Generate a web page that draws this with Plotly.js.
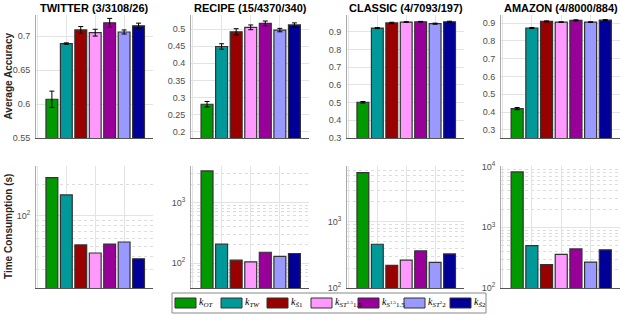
<!DOCTYPE html>
<html>
<head>
<meta charset="utf-8">
<script src="https://cdn.plot.ly/plotly-3.0.1.min.js"></script>
<style>html,body{margin:0;padding:0;background:#fff}#chart{width:623px;height:316px}</style>
</head>
<body>
<div id="chart"></div>
<script>
// ---- data ----
const datasets = ["TWITTER (3/3108/26)", "RECIPE (15/4370/340)", "CLASSIC (4/7093/197)", "AMAZON (4/8000/884)"];
const methods = ["<i>k</i><sub><i>OT</i></sub>", "<i>k</i><sub><i>TW</i></sub>", "<i>k</i><sub><i>S̃</i>1</sub>",
  "<i>k</i><sub><i>ST</i><sup>1.5</sup>1.5</sub>", "<i>k</i><sub><i>S</i><sup>1.5</sup>1.5</sub>",
  "<i>k</i><sub><i>ST</i><sup>2</sup>2</sub>", "<i>k</i><sub><i>S̃</i>2</sub>"];
const colors = ["#009900", "#009999", "#990000", "#ff99ff", "#990099", "#9999ff", "#000099"];
const xpos = [1, 2, 3, 4, 5, 6, 7];

const accTwitter = [0.607, 0.689, 0.709, 0.705, 0.7195, 0.706, 0.715];
const errTwitter = [0.012, 0.001, 0.005, 0.005, 0.0065, 0.003, 0.004];
const accRecipe = [0.2805, 0.449, 0.492, 0.505, 0.5165, 0.497, 0.512];
const errRecipe = [0.008, 0.008, 0.009, 0.007, 0.007, 0.005, 0.006];
const accClassic = [0.502, 0.921, 0.950, 0.955, 0.957, 0.946, 0.957];
const errClassic = [0.004, 0.003, 0.004, 0.002, 0.002, 0.003, 0.003];
const accAmazon = [0.420, 0.872, 0.909, 0.905, 0.915, 0.905, 0.916];
const errAmazon = [0.006, 0.003, 0.003, 0.002, 0.003, 0.002, 0.003];

const timeTwitter = [232, 158, 52, 43.5, 53, 55.5, 38.3];
const timeRecipe = [3300, 205, 112, 105, 151, 129, 144];
const timeClassic = [5500, 457, 219, 263, 363, 243, 327];
const timeAmazon = [8180, 500, 244, 357, 441, 267, 425];

const logTickVals = [10, 100, 1000, 10000];
const logTickText = ["10<sup>1</sup>", "10<sup>2</sup>", "10<sup>3</sup>", "10<sup>4</sup>"];

const accAll = [accTwitter, accRecipe, accClassic, accAmazon];
const errAll = [errTwitter, errRecipe, errClassic, errAmazon];
const timeAll = [timeTwitter, timeRecipe, timeClassic, timeAmazon];

// ---- layout helpers ----
const W = 623, H = 316;
const px = v => v / W, py = v => 1 - v / H;
const colPx = [[36, 153], [191, 309], [347, 464], [501, 620]];
const topRow = [15, 138], botRow = [166, 288];
const accRanges = [[0.55, 0.731], [0.182, 0.541], [0.3, 0.995], [0.255, 0.945]];
const accDtick = [0.05, 0.05, 0.1, 0.1];
const timeRanges = [[Math.log10(20), Math.log10(300)], [1.59, 3.6], [2, 3.84], [2, 4.01]];

// minor log grid positions (2..9 per decade)
const minorVals = [];
for (let e = 1; e <= 4; e++) for (let d = 2; d <= 9; d++) minorVals.push(d * Math.pow(10, e));

const traces = [];
const layout = {
  width: W, height: H, margin: {l: 0, r: 0, t: 0, b: 0},
  paper_bgcolor: "#fff", plot_bgcolor: "#fff",
  showlegend: false, barmode: "group",
  font: {family: "Liberation Sans, Arial, sans-serif", size: 9, color: "#4d4d4d"},
  annotations: [], shapes: []
};

const gridColor = "#e3e3e3";
for (let c = 0; c < 4; c++) {
  const dom = [px(colPx[c][0]), px(colPx[c][1])];
  const iT = c + 1, iB = c + 5;
  const xT = "x" + iT, yT = "y" + iT, xB = "x" + iB, yB = "y" + iB;
  const xaxisCommon = {domain: dom, range: [-0.1, 8.0], tickvals: [0, 2, 4, 6, 8], showticklabels: false,
    showgrid: true, gridcolor: gridColor, zeroline: false, showline: true, linecolor: "#555", linewidth: 1, ticks: ""};
  layout["xaxis" + iT] = Object.assign({}, xaxisCommon, {anchor: yT});
  layout["xaxis" + iB] = Object.assign({}, xaxisCommon, {anchor: yB});
  layout["yaxis" + iT] = {domain: [py(topRow[1]), py(topRow[0])], anchor: xT, range: accRanges[c], dtick: accDtick[c],
    showgrid: true, gridcolor: gridColor, zeroline: false, showline: true, linecolor: "#aaa", linewidth: 1, ticks: "",
    ticklabelstandoff: 3, tickfont: {size: 9, color: "#4d4d4d"}};
  layout["yaxis" + iB] = {domain: [py(botRow[1]), py(botRow[0])], anchor: xB, type: "log", range: timeRanges[c],
    tickmode: "array", tickvals: logTickVals, ticktext: logTickText,
    showgrid: true, gridcolor: gridColor, zeroline: false, showline: true, linecolor: "#aaa", linewidth: 1, ticks: "",
    ticklabelstandoff: 3, tickfont: {size: 9, color: "#4d4d4d"},
    minor: {tickmode: "array", tickvals: minorVals, showgrid: true, gridcolor: "#d4d4d4", griddash: "dot", gridwidth: 0.8, ticks: ""}};
  layout.annotations.push({text: "<b>" + datasets[c] + "</b>", xref: "paper", yref: "paper",
    x: (dom[0] + dom[1]) / 2, y: py(8), xanchor: "center", yanchor: "middle", showarrow: false,
    font: {size: 11, color: "#000", family: "Liberation Sans, Arial, sans-serif"}});

  for (let m = 0; m < 7; m++) {
    traces.push({type: "bar", x: [xpos[m]], y: [accAll[c][m]], width: 0.82, xaxis: xT, yaxis: yT,
      name: methods[m], marker: {color: colors[m], line: {color: "#333", width: 1.2}},
      error_y: {type: "data", array: [errAll[c][m]], visible: true, color: "#000", thickness: 1, width: 2.5},
      hoverinfo: "skip"});
    traces.push({type: "bar", x: [xpos[m]], y: [timeAll[c][m]], width: 0.82, xaxis: xB, yaxis: yB,
      name: methods[m], marker: {color: colors[m], line: {color: "#333", width: 1.2}}, hoverinfo: "skip"});
  }
}
layout.annotations.push({text: "<b>Average Accuracy</b>", xref: "paper", yref: "paper", x: px(8),
  y: py((topRow[0] + topRow[1]) / 2), textangle: -90, showarrow: false, xanchor: "center", yanchor: "middle",
  font: {size: 10, color: "#262626"}});
layout.annotations.push({text: "<b>Time Consumption (s)</b>", xref: "paper", yref: "paper", x: px(8),
  y: py((botRow[0] + botRow[1]) / 2), textangle: -90, showarrow: false, xanchor: "center", yanchor: "middle",
  font: {size: 10, color: "#262626"}});

// ---- custom legend (MATLAB style swatches) ----
const legBox = [172, 293, 486, 313];
layout.shapes.push({type: "rect", xref: "paper", yref: "paper", x0: px(legBox[0]), x1: px(legBox[2]),
  y0: py(legBox[3]), y1: py(legBox[1]), line: {color: "#888", width: 1}, fillcolor: "#fff", layer: "above"});
const swX = [175, 221, 267, 311, 358, 404, 450];
for (let m = 0; m < 7; m++) {
  layout.shapes.push({type: "rect", xref: "paper", yref: "paper", x0: px(swX[m]), x1: px(swX[m] + 21),
    y0: py(308), y1: py(298), line: {color: "#333", width: 1}, fillcolor: colors[m], layer: "above"});
  layout.annotations.push({text: methods[m], xref: "paper", yref: "paper", x: px(swX[m] + 22), y: py(302),
    xanchor: "left", yanchor: "middle", showarrow: false,
    font: {family: "Liberation Serif, Times New Roman, serif", size: 10, color: "#000"}});
}

Plotly.newPlot("chart", traces, layout, {displayModeBar: false, staticPlot: true});
</script>
</body>
</html>
